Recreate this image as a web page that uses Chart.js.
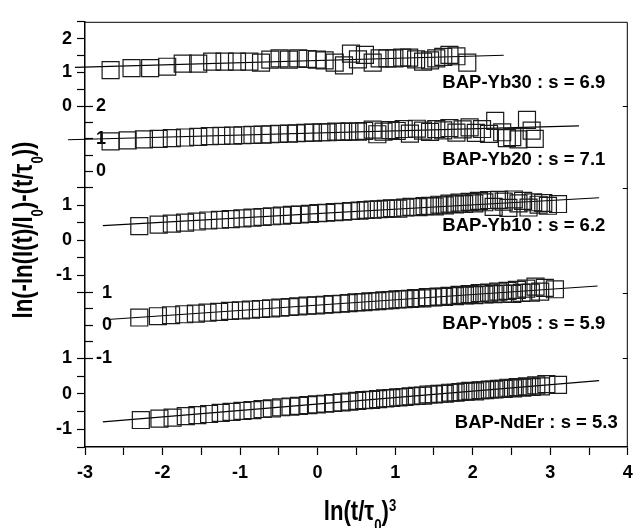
<!DOCTYPE html>
<html>
<head>
<meta charset="utf-8">
<script src="https://cdn.jsdelivr.net/npm/chart.js@4.4.1/dist/chart.umd.min.js"></script>
<style>
  body { margin: 0; background: #fff; }
  canvas { display: block; }
</style>
</head>
<body>
<canvas id="stretched" width="641" height="528"></canvas>
<script>
// ---- data ----
const yb30X = [-2.67, -2.40, -2.16, -1.94, -1.74, -1.54, -1.36, -1.20, -1.04, -0.88, -0.73, -0.61, -0.49, -0.37, -0.25, -0.13, -0.01, 0.09, 0.22, 0.34, 0.43, 0.52, 0.61, 0.71, 0.80, 0.90, 0.99, 1.09, 1.18, 1.27, 1.36, 1.45, 1.53, 1.62, 1.70, 1.79, 1.93];
const yb30Y = [1.07, 1.13, 1.13, 1.17, 1.26, 1.26, 1.32, 1.32, 1.32, 1.32, 1.29, 1.38, 1.42, 1.38, 1.42, 1.40, 1.38, 1.36, 1.29, 1.21, 1.56, 1.39, 1.52, 1.29, 1.42, 1.42, 1.42, 1.44, 1.44, 1.39, 1.32, 1.36, 1.42, 1.46, 1.52, 1.48, 1.29];

const yb20X = [-2.67, -2.45, -2.24, -2.05, -1.88, -1.71, -1.54, -1.39, -1.24, -1.09, -0.97, -0.84, -0.71, -0.61, -0.50, -0.37, -0.27, -0.16, -0.06, 0.05, 0.13, 0.24, 0.33, 0.41, 0.52, 0.60, 0.71, 0.77, 0.85, 0.94, 1.02, 1.11, 1.19, 1.28, 1.36, 1.45, 1.53, 1.62, 1.70, 1.79, 1.87, 1.96, 2.04, 2.12, 2.21, 2.29, 2.38, 2.44, 2.51, 2.59, 2.70, 2.76, 2.80];
const yb20Y = [0.92, 0.95, 0.98, 1.00, 1.02, 1.04, 1.06, 1.08, 1.09, 1.10, 1.11, 1.12, 1.13, 1.14, 1.15, 1.16, 1.17, 1.18, 1.19, 1.20, 1.20, 1.22, 1.21, 1.23, 1.22, 1.24, 1.28, 1.14, 1.22, 1.27, 1.24, 1.30, 1.16, 1.31, 1.25, 1.21, 1.30, 1.26, 1.33, 1.19, 1.29, 1.35, 1.18, 1.30, 1.15, 1.55, 1.20, 1.02, 1.05, 0.98, 1.58, 1.25, 1.00];

const yb10X = [-2.30, -2.05, -1.88, -1.71, -1.56, -1.41, -1.26, -1.12, -0.97, -0.84, -0.71, -0.59, -0.46, -0.33, -0.23, -0.10, 0.01, 0.11, 0.22, 0.33, 0.43, 0.54, 0.62, 0.71, 0.79, 0.88, 0.96, 1.04, 1.13, 1.21, 1.30, 1.38, 1.45, 1.51, 1.57, 1.64, 1.70, 1.77, 1.83, 1.89, 1.96, 2.02, 2.08, 2.15, 2.21, 2.27, 2.34, 2.40, 2.46, 2.53, 2.59, 2.65, 2.72, 2.78, 2.85, 2.91, 2.97, 3.10];
const yb10Y = [0.40, 0.44, 0.47, 0.50, 0.53, 0.56, 0.58, 0.60, 0.62, 0.64, 0.66, 0.68, 0.70, 0.72, 0.73, 0.75, 0.77, 0.78, 0.80, 0.81, 0.83, 0.84, 0.86, 0.87, 0.88, 0.89, 0.91, 0.90, 0.93, 0.95, 0.94, 0.97, 0.98, 0.96, 1.01, 0.99, 1.04, 1.02, 1.07, 1.03, 1.09, 1.05, 1.12, 1.08, 1.14, 0.95, 1.15, 1.10, 0.92, 1.16, 1.05, 1.12, 0.93, 1.08, 1.01, 1.06, 0.98, 1.03];

const yb05X = [-2.30, -2.06, -1.89, -1.72, -1.57, -1.42, -1.27, -1.13, -0.99, -0.86, -0.73, -0.60, -0.48, -0.36, -0.25, -0.13, -0.02, 0.09, 0.19, 0.30, 0.40, 0.50, 0.59, 0.68, 0.77, 0.86, 0.94, 1.03, 1.11, 1.19, 1.27, 1.35, 1.42, 1.49, 1.56, 1.63, 1.70, 1.77, 1.83, 1.90, 1.96, 2.02, 2.09, 2.15, 2.21, 2.27, 2.33, 2.39, 2.45, 2.51, 2.57, 2.63, 2.69, 2.75, 2.81, 2.87, 2.93, 3.06];
const yb05Y = [0.24, 0.28, 0.31, 0.34, 0.36, 0.39, 0.41, 0.44, 0.46, 0.48, 0.50, 0.52, 0.54, 0.56, 0.58, 0.60, 0.61, 0.63, 0.65, 0.66, 0.68, 0.70, 0.71, 0.73, 0.74, 0.76, 0.77, 0.79, 0.80, 0.81, 0.83, 0.82, 0.86, 0.85, 0.88, 0.87, 0.90, 0.89, 0.93, 0.91, 0.95, 0.92, 0.98, 0.94, 1.00, 0.95, 1.03, 0.97, 1.05, 0.96, 1.08, 0.99, 1.12, 1.00, 1.18, 1.03, 1.14, 1.10];

const ndErX = [-2.28, -2.04, -1.87, -1.70, -1.55, -1.40, -1.25, -1.11, -0.97, -0.84, -0.71, -0.59, -0.47, -0.35, -0.24, -0.12, -0.01, 0.10, 0.20, 0.31, 0.41, 0.51, 0.60, 0.69, 0.78, 0.87, 0.95, 1.04, 1.12, 1.20, 1.28, 1.36, 1.43, 1.50, 1.57, 1.64, 1.71, 1.78, 1.84, 1.91, 1.97, 2.03, 2.10, 2.16, 2.22, 2.28, 2.34, 2.40, 2.46, 2.52, 2.58, 2.64, 2.70, 2.76, 2.82, 2.88, 2.95, 3.10];
const ndErY = [-0.74, -0.70, -0.67, -0.63, -0.60, -0.57, -0.54, -0.51, -0.48, -0.46, -0.43, -0.41, -0.38, -0.36, -0.34, -0.32, -0.30, -0.28, -0.26, -0.24, -0.22, -0.20, -0.18, -0.17, -0.15, -0.13, -0.12, -0.10, -0.09, -0.07, -0.06, -0.05, -0.02, -0.02, 0.00, 0.00, 0.03, 0.03, 0.05, 0.06, 0.08, 0.07, 0.10, 0.10, 0.12, 0.12, 0.14, 0.14, 0.17, 0.15, 0.19, 0.17, 0.21, 0.19, 0.24, 0.21, 0.27, 0.25];

// fitted straight lines (end points)
const fitYb30X = [-3.13, 2.40], fitYb30Y = [1.15, 1.51];
const fitYb20X = [-3.22, 3.37], fitYb20Y = [0.97, 1.40];
const fitYb10X = [-2.77, 3.63], fitYb10Y = [0.41, 1.21];
const fitYb05X = [-2.71, 3.61], fitYb05Y = [0.18, 1.20];
const fitNdErX = [-2.77, 3.63], fitNdErY = [-0.79, 0.37];

const panelLabels = ["BAP-Yb30 : s = 6.9", "BAP-Yb20 : s = 7.1", "BAP-Yb10 : s = 6.2", "BAP-Yb05 : s = 5.9", "BAP-NdEr : s = 5.3"];
const xTitle = [{ t: "ln(t/τ" }, { t: "0", sub: true }, { t: ")" }, { t: "3", sup: true }];
const yTitle = [{ t: "ln(-ln(I(t)/I" }, { t: "0", sub: true }, { t: ")-(t/τ" }, { t: "0", sub: true }, { t: "))" }];

// ---- layout of the stacked panels ----
const fontFamily = "'Liberation Sans', Arial, Helvetica, sans-serif";
const tickFont = { family: fontFamily, size: 18, weight: "bold" };

const panels = [
  { id: "y30", min: 0, max: 2.5, h: 85.7, inward: false, xs: yb30X, ys: yb30Y, fx: fitYb30X, fy: fitYb30Y, lx: 3.71, ly: 0.70 },
  { id: "y20", min: -0.5, max: 2, h: 82.5, inward: true, xs: yb20X, ys: yb20Y, fx: fitYb20X, fy: fitYb20Y, lx: 3.71, ly: 0.36 },
  { id: "y10", min: -1.5, max: 1.5, h: 106.5, inward: false, xs: yb10X, ys: yb10Y, fx: fitYb10X, fy: fitYb10Y, lx: 3.71, ly: 0.41 },
  { id: "y05", min: -1, max: 1, h: 66.7, inward: true, xs: yb05X, ys: yb05Y, fx: fitYb05X, fy: fitYb05Y, lx: 3.71, ly: 0.04 },
  { id: "yNd", min: -1.5, max: 1, h: 90, inward: false, xs: ndErX, ys: ndErY, fx: fitNdErX, fy: fitNdErY, lx: 3.87, ly: -0.83 },
];

const intLabel = (v) => (Number.isInteger(v) ? String(v) : "");

const scales = {
  x: {
    type: "linear",
    position: "bottom",
    min: -3,
    max: 4,
    afterFit: (s) => { s.height = 81; },
    border: { color: "#000", width: 1.5 },
    grid: { drawOnChartArea: false, tickLength: 8, tickColor: "#000", tickWidth: 1.2 },
    ticks: { stepSize: 0.5, autoSkip: false, maxRotation: 0, includeBounds: false, padding: 7, color: "#000", font: tickFont, callback: intLabel },
  },
};
panels.forEach((p, i) => {
  scales[p.id] = {
    type: "linear",
    position: "left",
    stack: "panels",
    stackWeight: p.h,
    weight: panels.length - i,
    min: p.min,
    max: p.max,
    afterFit: (s) => { s.width = 85; },
    border: { color: "#000", width: 1.5 },
    grid: { drawOnChartArea: false, tickLength: p.inward ? -8 : 8, tickColor: "#000", tickWidth: 1.2 },
    ticks: {
      stepSize: 0.5,
      includeBounds: false,
      autoSkip: false,
      mirror: p.inward,
      crossAlign: p.inward ? "far" : "near",
      padding: p.inward ? 11 : 5,
      color: "#000",
      font: tickFont,
      callback: intLabel,
    },
  };
});

const datasets = [];
panels.forEach((p) => {
  datasets.push({
    data: p.xs.map((x, i) => ({ x, y: p.ys[i] })),
    yAxisID: p.id,
    pointStyle: "rect",
    pointRadius: 12,
    borderColor: "#1a1a1a",
    borderWidth: 1.2,
    backgroundColor: "rgba(0,0,0,0)",
    clip: false,
  });
  datasets.push({
    data: p.fx.map((x, i) => ({ x, y: p.fy[i] })),
    yAxisID: p.id,
    showLine: true,
    pointRadius: 0,
    borderColor: "#000",
    borderWidth: 1.2,
    clip: false,
  });
});

// condensed bold text with sub/superscripts, centred on x0, baseline at base
function drawRich(ctx, parts, x0, base, angle) {
  const squeeze = 0.82;
  const big = `bold 27px ${fontFamily}`;
  const small = `bold 16px ${fontFamily}`;
  const widths = parts.map((p) => {
    ctx.font = p.sub || p.sup ? small : big;
    return ctx.measureText(p.t).width;
  });
  const total = widths.reduce((a, b) => a + b, 0);
  ctx.save();
  ctx.translate(x0, base);
  ctx.rotate(angle);
  ctx.scale(squeeze, 1);
  ctx.textAlign = "left";
  ctx.textBaseline = "alphabetic";
  let x = -total / 2;
  parts.forEach((p, i) => {
    ctx.font = p.sub || p.sup ? small : big;
    ctx.fillText(p.t, x, p.sub ? 11 : p.sup ? -9 : 0);
    x += widths[i];
  });
  ctx.restore();
}

const decorations = {
  id: "decorations",
  afterDraw(chart) {
    const { ctx, chartArea: a, scales: sc } = chart;
    ctx.save();
    ctx.strokeStyle = "#000";
    ctx.lineWidth = 1;
    ctx.beginPath();
    ctx.moveTo(a.left, a.top + 0.5);
    ctx.lineTo(a.right - 0.5, a.top + 0.5);
    ctx.lineTo(a.right - 0.5, a.bottom);
    // small marks on the right frame where the panels meet
    panels.slice(0, -1).forEach((p) => {
      const y = Math.round(sc[p.id].bottom) + 0.5;
      ctx.moveTo(a.right, y);
      ctx.lineTo(a.right - 5, y);
    });
    ctx.stroke();

    ctx.fillStyle = "#000";
    ctx.font = `bold 18.5px ${fontFamily}`;
    ctx.textAlign = "right";
    ctx.textBaseline = "middle";
    panels.forEach((p, i) => {
      ctx.fillText(panelLabels[i], sc.x.getPixelForValue(p.lx), sc[p.id].getPixelForValue(p.ly));
    });

    drawRich(ctx, xTitle, 360, 520, 0);
    drawRich(ctx, yTitle, 32, 230, -Math.PI / 2);
    ctx.restore();
  },
};

new Chart(document.getElementById("stretched"), {
  type: "scatter",
  data: { datasets },
  options: {
    responsive: false,
    devicePixelRatio: 1,
    animation: false,
    events: [],
    layout: { padding: { left: 0, top: 15, right: 5, bottom: 0 } },
    plugins: { legend: { display: false }, tooltip: { enabled: false } },
    scales,
  },
  plugins: [decorations],
});
</script>
</body>
</html>
